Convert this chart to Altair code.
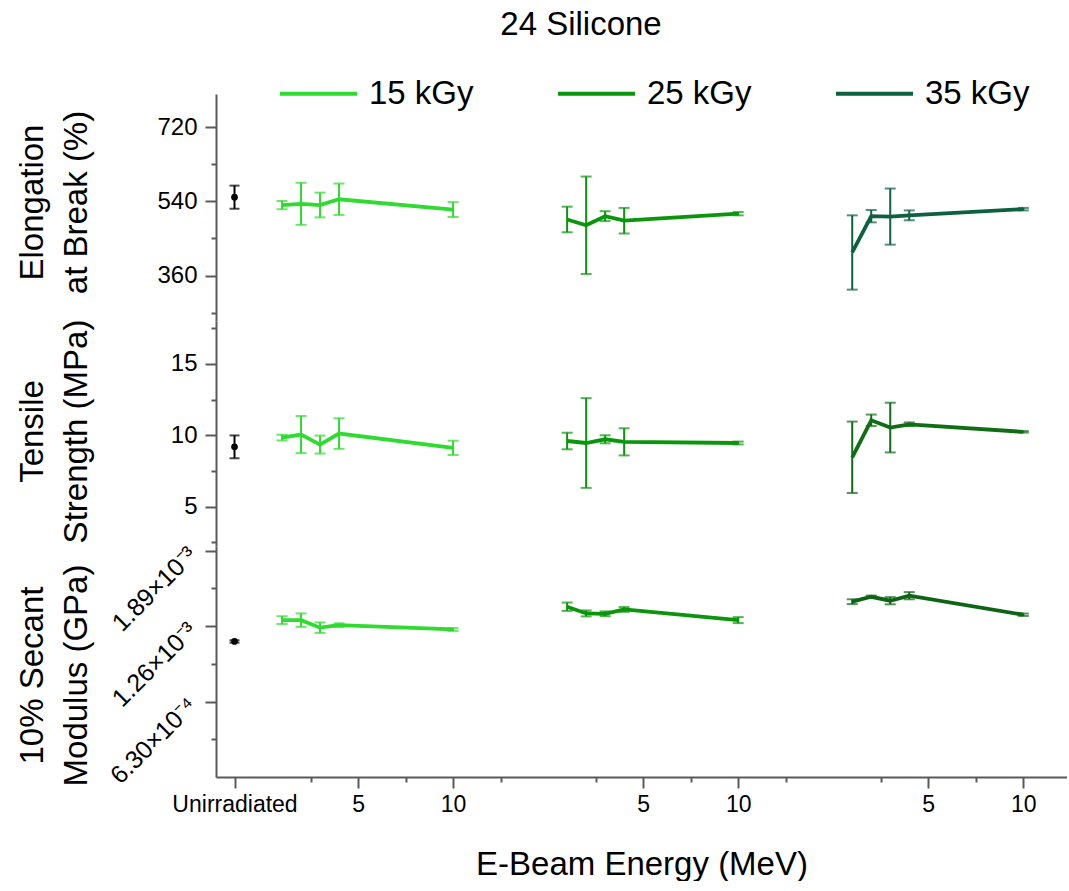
import altair as alt
import pandas as pd

FONT = "Liberation Sans"

# Beam energies (MeV) measured for every dose, and the dose labels
energies = [1, 2, 3, 4, 10]
doses = ["15 kGy", "25 kGy", "35 kGy"]

# Elongation at break (%) : means and error half-widths per dose
elong_mean = {
    "15 kGy": [531, 534, 531, 545, 520],
    "25 kGy": [496, 482, 504, 493, 510],
    "35 kGy": [416, 504, 503, 506, 521],
}
elong_err = {
    "15 kGy": [10, 51, 30, 38, 18],
    "25 kGy": [31, 118, 12, 31, 4],
    "35 kGy": [90, 15, 68, 12, 3],
}
elong_unirr = (550, 28)

# Tensile strength (MPa)
tens_mean = {
    "15 kGy": [9.84, 10.05, 9.35, 10.12, 9.12],
    "25 kGy": [9.60, 9.46, 9.72, 9.54, 9.46],
    "35 kGy": [8.46, 11.05, 10.54, 10.77, 10.24],
}
tens_err = {
    "15 kGy": [0.20, 1.30, 0.63, 1.07, 0.50],
    "25 kGy": [0.58, 3.14, 0.28, 0.95, 0.10],
    "35 kGy": [2.50, 0.40, 1.74, 0.13, 0.05],
}
tens_unirr = (9.19, 0.80)

# 10% secant modulus (GPa)
mod_mean = {
    "15 kGy": [1.310e-3, 1.310e-3, 1.247e-3, 1.268e-3, 1.232e-3],
    "25 kGy": [1.422e-3, 1.366e-3, 1.363e-3, 1.399e-3, 1.310e-3],
    "35 kGy": [1.464e-3, 1.505e-3, 1.472e-3, 1.514e-3, 1.355e-3],
}
mod_err = {
    "15 kGy": [3.3e-5, 5.6e-5, 4.4e-5, 1.5e-5, 1.2e-5],
    "25 kGy": [3.5e-5, 2.5e-5, 2.0e-5, 2.0e-5, 2.5e-5],
    "35 kGy": [2.0e-5, 1.0e-5, 3.0e-5, 3.0e-5, 1.0e-5],
}
mod_unirr = (1.132e-3, 1.0e-5)

# Tick values / labels
elong_ticks = [270, 360, 450, 540, 630, 720]
tens_ticks = [2.5, 5, 7.5, 10, 12.5, 15, 17.5]
mod_ticks = [3.15e-4, 6.30e-4, 9.45e-4, 1.26e-3, 1.575e-3, 1.89e-3]
mod_labels = {6.30e-4: "6.30×10⁻⁴", 1.26e-3: "1.26×10⁻³", 1.89e-3: "1.89×10⁻³"}

# Broken energy axis: each dose block is shifted along one continuous scale
UNIRR_POS = -1.5
BLOCK_SHIFT = {"15 kGy": 0, "25 kGy": 15, "35 kGy": 30}
X_DOMAIN = [-2.474, 42.3]
x_ticks = [UNIRR_POS] + [s + v for s in (0, 15, 30) for v in (2.5, 5, 7.5, 10, 12.5)]
x_ticks = [v for v in x_ticks if X_DOMAIN[0] <= v <= X_DOMAIN[1]]
x_five = [s + 5 for s in (0, 15, 30)]
x_ten = [s + 10 for s in (0, 15, 30)]

PX_PER_MEV = 19
PLOT_W = round((X_DOMAIN[1] - X_DOMAIN[0]) * PX_PER_MEV)

AXIS_GREY = "#5a5a5a"


def frame(mean, err):
    rows = []
    for d in doses:
        for e, m, s in zip(energies, mean[d], err[d]):
            rows.append({"dose": d, "energy": e, "pos": e + BLOCK_SHIFT[d],
                         "mean": m, "lo": m - s, "hi": m + s})
    return pd.DataFrame(rows)


def unirr_frame(u):
    m, s = u
    return pd.DataFrame([{"pos": UNIRR_POS, "mean": m, "lo": m - s, "hi": m + s}])


def or_expr(values):
    return " || ".join(f"abs(datum.value - {v}) < 1e-6" for v in values)


x_label_expr = (
    f"abs(datum.value - ({UNIRR_POS})) < 1e-6 ? 'Unirradiated' : "
    f"({or_expr(x_five)}) ? '5' : ({or_expr(x_ten)}) ? '10' : ''"
)
x_major_test = f"abs(datum.value - ({UNIRR_POS})) < 1e-6 || {or_expr(x_five + x_ten)}"


def y_axis(title, ticks, label_expr, major_test, title_y, **kw):
    opts = dict(
        values=ticks,
        labelExpr=label_expr,
        labelOverlap=False,
        title=title,
        titleX=-184,
        titleY=title_y,
        titleAngle=270,
        titleAlign="center",
        titleBaseline="middle",
        titleLineHeight=44,
        titleFontSize=33,
        titleFontWeight="normal",
        titleColor="black",
        labelFontSize=24,
        labelColor="black",
        labelPadding=8,
        tickSize={"condition": {"test": major_test, "value": 11}, "value": 5},
        tickColor=AXIS_GREY,
        tickWidth=2,
        domainColor=AXIS_GREY,
        domainWidth=2,
        grid=False,
    )
    opts.update(kw)
    return alt.Axis(**opts)


def panel(mean, err, unirr, domain, axis, colors, height, legend, x_axis=None, extra=None):
    df = frame(mean, err)
    udf = unirr_frame(unirr)
    x = alt.X("pos:Q", scale=alt.Scale(domain=X_DOMAIN, nice=False, zero=False), axis=x_axis)
    yscale = alt.Scale(domain=domain, nice=False, zero=False)
    color = alt.Color("dose:N", scale=alt.Scale(domain=doses, range=colors), legend=legend)

    line = alt.Chart(df).mark_line(strokeWidth=3.8).encode(
        x=x, y=alt.Y("mean:Q", scale=yscale, axis=axis), color=color, detail="dose:N"
    )
    bars = alt.Chart(df).mark_errorbar(ticks=True, size=11, thickness=2).encode(
        x=x, y=alt.Y("lo:Q", scale=yscale, axis=axis), y2="hi:Q", color=color
    )
    ubar = alt.Chart(udf).mark_errorbar(ticks=True, size=10, thickness=2, color="black").encode(
        x=x, y=alt.Y("lo:Q", scale=yscale, axis=axis), y2="hi:Q"
    )
    upt = alt.Chart(udf).mark_point(filled=True, size=45, color="black", opacity=1).encode(
        x=x, y=alt.Y("mean:Q", scale=yscale, axis=axis)
    )
    layers = [bars, line, ubar, upt]
    if extra is not None:
        layers.append(extra)
    return alt.layer(*layers).properties(width=PLOT_W, height=height)


legend = alt.Legend(
    orient="none",
    legendX=62,
    legendY=-41,
    direction="horizontal",
    columns=3,
    title=None,
    symbolType="stroke",
    symbolSize=5929,
    symbolStrokeWidth=4,
    symbolOpacity=1,
    labelFontSize=33,
    labelFont=FONT,
    labelColor="black",
    labelOffset=10,
    columnPadding=76,
)

title_text = alt.Chart(pd.DataFrame({"t": ["24 Silicone"]})).mark_text(
    fontSize=33, font=FONT, color="black", baseline="middle", align="center"
).encode(text="t:N", x=alt.value(365), y=alt.value(-69))

elong = panel(
    elong_mean, elong_err, elong_unirr, [250, 800],
    y_axis(["Elongation", "at Break (%)"], elong_ticks,
           "datum.value % 180 == 0 ? datum.label : ''", "datum.value % 180 == 0", 108,
           format="d"),
    ["#2EDB2E", "#0A960A", "#0C6141"], 227, legend, extra=title_text,
)

tens = panel(
    tens_mean, tens_err, tens_unirr, [2.25, 18.0],
    y_axis(["Tensile", "Strength (MPa)"], tens_ticks,
           "datum.value % 5 == 0 ? datum.label : ''", "datum.value % 5 == 0", 110,
           format="d"),
    ["#2EDB2E", "#0A960A", "#0F6E14"], 225, None,
)

mod_label_expr = " : ".join(
    f"abs(datum.value - {v}) < 1e-7 ? '{t}'" for v, t in mod_labels.items()
) + " : ''"
mod_major = " || ".join(f"abs(datum.value - {v}) < 1e-7" for v in mod_labels)

x_axis = alt.Axis(
    values=x_ticks,
    labelExpr=x_label_expr,
    title="E-Beam Energy (MeV)",
    titleFontSize=33,
    titleFontWeight="normal",
    titleColor="black",
    titleY=87,
    titleBaseline="middle",
    labelFontSize=23,
    labelColor="black",
    labelPadding=5,
    labelFlush=False,
    labelOverlap=False,
    tickSize={"condition": {"test": x_major_test, "value": 11}, "value": 5},
    tickColor=AXIS_GREY,
    tickWidth=2,
    domainColor=AXIS_GREY,
    domainWidth=2,
    grid=False,
)

mod = panel(
    mod_mean, mod_err, mod_unirr, [0, 1.929e-3],
    y_axis(["10% Secant", "Modulus (GPa)"], mod_ticks, mod_label_expr, mod_major, 129,
           labelAngle=315, labelAlign="right", labelBaseline="middle",
           labelFontSize=25, labelPadding=13),
    ["#2EDB2E", "#0A960A", "#0E6415"], 231, None, x_axis=x_axis,
)

chart = (
    alt.vconcat(elong, tens, mod, spacing=0, bounds="flush")
    .resolve_scale(color="independent")
    .properties(padding={"left": 16, "top": 9, "right": 0, "bottom": 0})
    .configure(font=FONT)
    .configure_view(stroke=None)
)

chart.save("out.html", embed_options={"renderer": "svg", "actions": False})
